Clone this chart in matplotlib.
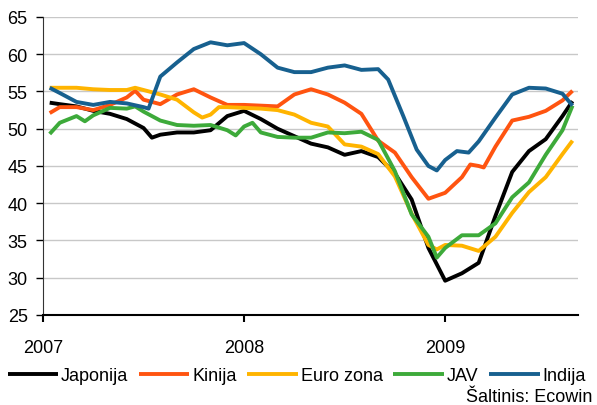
import matplotlib
matplotlib.use("Agg")
import matplotlib.pyplot as plt

# months since Jan 2007
jap_m = [0.4, 1, 2, 3, 4, 5, 6, 6.5, 7, 8, 9, 10, 11, 12, 13, 14, 15, 16, 17, 18, 19, 20, 21, 22, 23, 24, 25, 26, 27, 28, 29, 30, 31, 31.6]
jap_v = [53.5, 53.3, 53.0, 52.4, 52.0, 51.3, 50.1, 48.8, 49.2, 49.5, 49.5, 49.8, 51.7, 52.4, 51.3, 50.0, 49.0, 48.0, 47.5, 46.5, 47.0, 46.2, 44.0, 40.5, 34.0, 29.6, 30.6, 32.0, 38.3, 44.2, 47.0, 48.6, 51.7, 53.7]

kin_m = [0.4, 1, 2, 3, 4, 5, 5.5, 6, 7, 8, 9, 10, 11, 12, 13, 14, 15, 16, 17, 18, 19, 20, 21, 22, 23, 24, 25, 25.5, 26, 26.3, 27, 28, 29, 30, 31, 31.6]
kin_v = [52.1, 52.9, 52.9, 52.5, 53.2, 54.2, 55.1, 53.9, 53.3, 54.6, 55.3, 54.2, 53.2, 53.2, 53.1, 53.0, 54.6, 55.3, 54.6, 53.5, 52.0, 48.4, 46.8, 43.5, 40.6, 41.4, 43.5, 45.2, 45.0, 44.8, 47.6, 51.1, 51.6, 52.4, 53.8, 55.1]

eur_m = [0.4, 1, 2, 3, 4, 5, 5.5, 6, 7, 8, 9, 9.5, 10, 10.5, 11, 12, 13, 14, 15, 16, 17, 18, 19, 20, 21, 22, 23, 23.5, 24, 25, 26, 27, 28, 29, 30, 31, 31.6]
eur_v = [55.5, 55.5, 55.5, 55.3, 55.2, 55.2, 55.5, 55.2, 54.6, 53.9, 52.2, 51.5, 51.9, 52.9, 52.9, 52.8, 52.7, 52.5, 51.9, 50.8, 50.3, 47.9, 47.6, 46.6, 43.6, 38.6, 34.4, 33.8, 34.4, 34.3, 33.6, 35.5, 38.7, 41.5, 43.5, 46.6, 48.4]

jav_m = [0.4, 1, 2, 2.5, 3, 4, 5, 5.5, 6, 7, 8, 9, 10, 11, 11.5, 12, 12.5, 13, 14, 15, 16, 17, 18, 19, 20, 21, 22, 23, 23.5, 24, 25, 26, 27, 28, 29, 30, 31, 31.6]
jav_v = [49.3, 50.8, 51.7, 51.0, 51.8, 52.8, 52.7, 53.0, 52.3, 51.1, 50.5, 50.4, 50.5, 49.8, 49.1, 50.3, 50.8, 49.5, 48.9, 48.8, 48.8, 49.5, 49.4, 49.6, 48.5, 44.3, 38.5, 35.5, 32.7, 34.0, 35.7, 35.7, 37.3, 40.8, 42.8, 46.5, 49.8, 53.1]

ind_m = [0.4, 1, 2, 3, 4, 5, 6, 6.3, 7, 8, 9, 10, 11, 12, 13, 14, 15, 16, 17, 18, 19, 20, 20.6, 21.5, 22.3, 23, 23.5, 24, 24.7, 25.4, 26, 27, 28, 29, 30, 31, 31.6]
ind_v = [55.5, 54.8, 53.6, 53.2, 53.6, 53.4, 52.9, 52.7, 57.0, 58.9, 60.7, 61.6, 61.2, 61.5, 60.0, 58.2, 57.6, 57.6, 58.2, 58.5, 57.9, 58.0, 56.6, 51.7, 47.2, 45.0, 44.4, 45.8, 47.0, 46.8, 48.3, 51.5, 54.6, 55.5, 55.4, 54.7, 53.1]

names = ["Japonija", "Kinija", "Euro zona", "JAV", "Indija"]
colors = ["#000000", "#FF5410", "#FFB400", "#3DAA3A", "#17608F"]
series = [(jap_m, jap_v), (kin_m, kin_v), (eur_m, eur_v), (jav_m, jav_v), (ind_m, ind_v)]

year_ticks = [2007, 2008, 2009]
y_ticks = [25, 30, 35, 40, 45, 50, 55, 60, 65]

plt.rcParams['font.family'] = ['Liberation Sans', 'DejaVu Sans']

fig = plt.figure(figsize=(5.97, 4.06), dpi=100)
ax = fig.add_axes([0.072, 0.2217, 0.896, 0.734])

for (m, v), name, c in zip(series, names, colors):
    x = [2007 + mm / 12.0 for mm in m]
    ax.plot(x, v, color=c, lw=2.8, label=name, solid_capstyle='butt', solid_joinstyle='round')

ax.set_xlim(2007, 2009.66)
ax.set_ylim(25, 65)
ax.set_yticks(y_ticks)
ax.set_xticks(year_ticks)
ax.set_xticklabels([str(y) for y in year_ticks])
ax.grid(axis='y', color='#C8C8C8', lw=1)
ax.set_axisbelow(True)
for s in ['top', 'right']:
    ax.spines[s].set_visible(False)
ax.spines['left'].set_color('#333333')
ax.spines['bottom'].set_color('#000000')
ax.spines['bottom'].set_linewidth(1.5)
ax.tick_params(axis='y', length=5, width=1, pad=6, labelsize=13, direction='out')
ax.tick_params(axis='x', length=5, width=1.5, pad=12, labelsize=13, direction='out')

fig.legend(loc='center', bbox_to_anchor=(0.497, 0.072), ncol=5, frameon=False,
           fontsize=13, handlelength=2.8, handletextpad=0.15, columnspacing=0.6,
           borderaxespad=0)
fig.text(0.993, 0.022, "Šaltinis: Ecowin", ha='right', va='center', fontsize=13)

fig.savefig("out.png", dpi=100)
